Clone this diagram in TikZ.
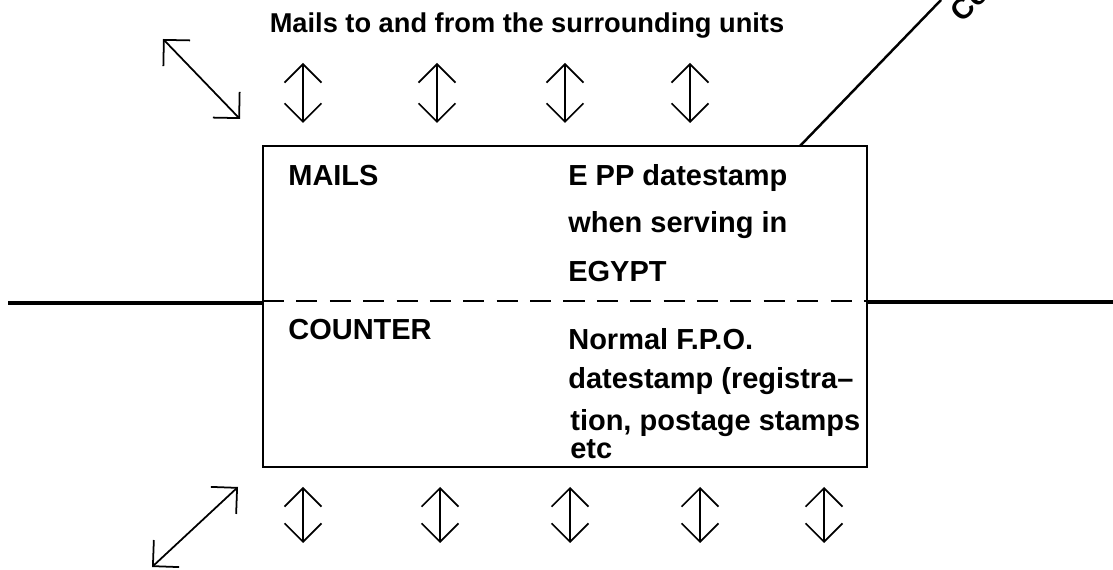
\documentclass[tikz,border=0pt]{standalone}
\usepackage{fontspec}
\setmainfont{Liberation Sans}
\usetikzlibrary{arrows.meta}

\begin{document}
\begin{tikzpicture}[x=0.02cm,y=-0.02cm]
\tikzset{mailarrow/.style={line width=1pt,{Straight Barb[length=0.37cm,width=0.74cm]}-{Straight Barb[length=0.37cm,width=0.74cm]}},
  boxtext/.style={anchor=base west,inner sep=0pt,font=\bfseries\fontsize{16.5}{19}\selectfont}}
\useasboundingbox (0,0) rectangle (1113,570);
% the box
\draw[line width=1pt](263,146) coordinate (nw) rectangle (867,467) coordinate (se);
\coordinate (dl) at (263,301);
\coordinate (dr) at (867,301);
\draw[line width=0.8pt,dash pattern=on 12pt off 7pt](dl) -- (dr);
% the thick line through it
\coordinate (lend) at (8,303);
\coordinate (rend) at (1113,302);
\draw[line width=2pt](lend) -- (lend -| nw);
\draw[line width=2pt](rend -| se) -- (rend);
% slanted line to the top
\coordinate (sfoot) at (800,146);
\coordinate (stop) at (941,0);
\draw[line width=1.4pt](sfoot) -- (stop);
\node[boxtext,rotate=45](co) at (962,24){Co};
% texts
\node[boxtext,anchor=base,font=\bfseries\fontsize{15.5}{18}\selectfont](title) at (527,33){Mails to and from the surrounding units};
\node[boxtext](mails) at (288,186){MAILS};
\node[boxtext](epp) at (568,186){E PP datestamp};
\node[boxtext](serv) at (568,233){when serving in};
\node[boxtext](egypt) at (568,282){EGYPT};
\node[boxtext](counter) at (288,340){COUNTER};
\node[boxtext](normal) at (568,350){Normal F.P.O.};
\node[boxtext](dstamp) at (568,389){datestamp (registra--};
\node[boxtext](tion) at (570,431){tion, postage stamps};
\node[boxtext](etc) at (570,459){etc};
% arrows above the box
\foreach \x/\n in {303/a,437/b,565/c,690/d}{
  \coordinate (up\n) at (\x,63);
  \coordinate (dn\n) at (\x,123);
  \draw[mailarrow](up\n) -- (dn\n);
}
\coordinate (ql) at (163,39);
\coordinate (qr) at (240,119);
\draw[mailarrow](ql) -- (qr);
% arrows below the box
\foreach \x/\n in {303/e,440/f,570/g,700/h,824/i}{
  \coordinate (up\n) at (\x,487);
  \coordinate (dn\n) at (\x,543);
  \draw[mailarrow](up\n) -- (dn\n);
}
\coordinate (pr) at (238,487);
\coordinate (pl) at (152,567);
\draw[mailarrow](pr) -- (pl);
\end{tikzpicture}
\end{document}
